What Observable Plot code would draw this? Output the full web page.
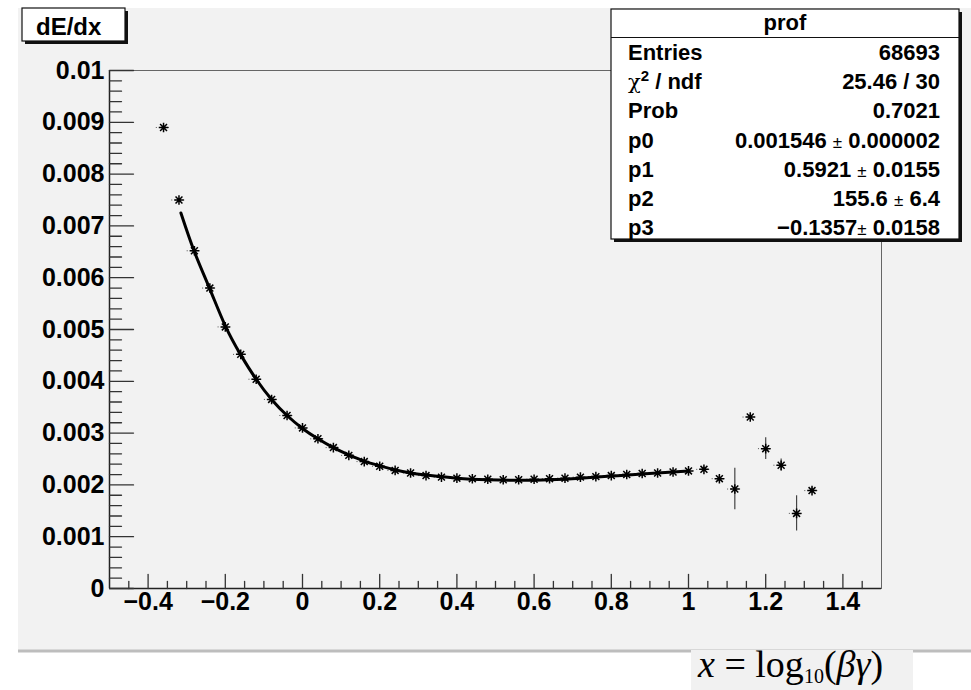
<!DOCTYPE html>
<html><head><meta charset="utf-8">
<script src="https://cdn.jsdelivr.net/npm/d3@7"></script>
<script src="https://cdn.jsdelivr.net/npm/@observablehq/plot@0.6"></script>
<style>
html,body{margin:0;padding:0;background:#fff;}
#chart{position:relative;width:971px;height:690px;overflow:hidden;}
</style></head><body><div id="chart"></div>
<script>
// ---- data ----
const binCenters = [-0.36,-0.32,-0.28,-0.24,-0.20,-0.16,-0.12,-0.08,-0.04,0.00,
  0.04,0.08,0.12,0.16,0.20,0.24,0.28,0.32,0.36,0.40,
  0.44,0.48,0.52,0.56,0.60,0.64,0.68,0.72,0.76,0.80,
  0.84,0.88,0.92,0.96,1.00,1.04,1.08,1.12,1.16,1.20,
  1.24,1.28,1.32];
const dedx = [0.00890,0.00750,0.00652,0.00580,0.00505,0.00452,0.00404,0.00365,0.00334,0.00310,
  0.00289,0.00272,0.00257,0.00245,0.00236,0.00228,0.00223,0.00218,0.00215,0.00213,
  0.00212,0.00211,0.00210,0.00210,0.00211,0.00212,0.00213,0.00215,0.00216,0.00218,
  0.00220,0.00222,0.00223,0.00225,0.00227,0.00230,0.00212,0.00192,0.00331,0.00270,
  0.00238,0.00145,0.00189];
const dedxErr = [0.00004,0.00003,0.00003,0.00002,0.00002,0.00002,0.00002,0.00001,0.00001,0.00001,
  0.00001,0.00001,0.00001,0.00001,0.00001,0.00001,0.00001,0.00001,0.00001,0.00001,
  0.00001,0.00001,0.00001,0.00001,0.00001,0.00001,0.00001,0.00001,0.00001,0.00001,
  0.00001,0.00001,0.00001,0.00001,0.00002,0.00004,0.00006,0.00040,0.00005,0.00021,
  0.00012,0.00034,0.00005];
const binHalfWidth = 0.02;

const fitX = [-0.315,-0.28,-0.24,-0.20,-0.16,-0.12,-0.08,-0.04,0.00,0.04,0.08,0.12,0.16,0.20,0.24,0.28,0.32,0.40,0.48,0.56,0.64,0.72,0.80,0.88,0.96,1.00];
const fitY = [0.00725,0.00650,0.00578,0.00507,0.00451,0.00404,0.00365,0.00334,0.00309,0.00289,0.00272,0.00258,0.00246,0.00237,0.00229,0.00223,0.00219,0.00213,0.00210,0.00209,0.00210,0.00213,0.00217,0.00221,0.00225,0.00227];

const xMajor = [-0.4,-0.2,0,0.2,0.4,0.6,0.8,1.0,1.2,1.4];
const xTickLabels = ["\u22120.4","\u22120.2","0","0.2","0.4","0.6","0.8","1","1.2","1.4"];
const xMinor = [-0.45,-0.35,-0.3,-0.25,-0.15,-0.1,-0.05,0.05,0.1,0.15,0.25,0.3,0.35,0.45,0.5,0.55,0.65,0.7,0.75,0.85,0.9,0.95,1.05,1.1,1.15,1.25,1.3,1.35,1.45];
const yMajor = [0,0.001,0.002,0.003,0.004,0.005,0.006,0.007,0.008,0.009,0.01];
const yTickLabels = ["0","0.001","0.002","0.003","0.004","0.005","0.006","0.007","0.008","0.009","0.01"];
const yMinor = [];
for (let i = 0; i < 50; i++) if (i % 5 !== 0) yMinor.push(+(i * 0.0002).toFixed(4));

const histTitle = "dE/dx";
const statsTitle = "prof";
const statsLabels = ["Entries", "\u03c7^2 / ndf", "Prob", "p0", "p1", "p2", "p3"];
const statsValues = ["68693", "25.46 / 30", "0.7021", "0.001546 \u00b1 0.000002", "0.5921 \u00b1 0.0155", "155.6 \u00b1 6.4", "\u22120.1357\u00b1 0.0158"];

// ---- marks ----
const points = binCenters.map((x, i) => ({x, y: dedx[i], e: dedxErr[i]}));
const fit = fitX.map((x, i) => ({x, y: fitY[i]}));

const tickShape = {draw(ctx, l) { ctx.moveTo(0, 0); ctx.lineTo(0, -l); }};
const asterisk = {draw(ctx, size) {
  const r = Math.sqrt(size / Math.PI), d = r * 0.72;
  ctx.moveTo(-r, 0); ctx.lineTo(r, 0);
  ctx.moveTo(0, -r); ctx.lineTo(0, r);
  ctx.moveTo(-d, -d); ctx.lineTo(d, d);
  ctx.moveTo(-d, d); ctx.lineTo(d, -d);
}};
const font = "'Liberation Sans', Arial, Helvetica, sans-serif";

const svg = Plot.plot({
  width: 971, height: 690,
  marginLeft: 109, marginRight: 90, marginTop: 70, marginBottom: 102,
  x: {domain: [-0.5, 1.5]},
  y: {domain: [0, 0.01]},
  style: {background: "transparent", fontFamily: font, overflow: "visible"},
  marks: [
    Plot.frame({stroke: "#666", strokeWidth: 1}),
    Plot.ruleX([-0.5], {stroke: "#222", strokeWidth: 1.5}),
    Plot.ruleY([0], {stroke: "#222", strokeWidth: 1.5}),
    Plot.vector(xMajor, {x: d => d, frameAnchor: "bottom", length: 14, anchor: "start", shape: tickShape, stroke: "#333", strokeWidth: 1.3}),
    Plot.vector(xMinor, {x: d => d, frameAnchor: "bottom", length: 7, anchor: "start", shape: tickShape, stroke: "#333", strokeWidth: 1.3}),
    Plot.vector(yMajor, {y: d => d, frameAnchor: "left", length: 24, rotate: 90, anchor: "start", shape: tickShape, stroke: "#333", strokeWidth: 1.3}),
    Plot.vector(yMinor, {y: d => d, frameAnchor: "left", length: 12, rotate: 90, anchor: "start", shape: tickShape, stroke: "#333", strokeWidth: 1.3}),
    Plot.axisX(xMajor, {tickSize: 0, tickPadding: 4, tickFormat: d => xTickLabels[xMajor.indexOf(d)], fontSize: 25, fontWeight: "bold", fill: "black", label: null}),
    Plot.axisY(yMajor, {tickSize: 0, tickPadding: 5, tickFormat: d => yTickLabels[yMajor.indexOf(d)], fontSize: 25, fontWeight: "bold", fill: "black", label: null}),
    Plot.link(points, {x1: d => d.x - binHalfWidth, x2: d => d.x + binHalfWidth, y1: "y", y2: "y", stroke: "#555", strokeWidth: 1, strokeDasharray: "1,3"}),
    Plot.ruleX(points, {x: "x", y1: d => d.y - d.e, y2: d => d.y + d.e, stroke: "#444", strokeWidth: 1.2}),
    Plot.line(fit, {x: "x", y: "y", curve: "natural", stroke: "black", strokeWidth: 3}),
    Plot.dot(points, {x: "x", y: "y", symbol: asterisk, r: 4.8, stroke: "black", strokeWidth: 1.5, fill: "none"})
  ]
});
document.getElementById("chart").append(svg);

// ---- decorations (ROOT canvas look) ----
const s = d3.select(svg);
const bg = s.insert("g", ":first-child");
bg.append("rect").attr("x", 18).attr("y", 8).attr("width", 953).attr("height", 642).attr("fill", "#f2f2f2");
bg.append("rect").attr("x", 18).attr("y", 649.5).attr("width", 953).attr("height", 3).attr("fill", "#bdbdbd");

const deco = s.append("g").attr("font-family", font).attr("text-anchor", "start");
// title box
deco.append("rect").attr("x", 25).attr("y", 11).attr("width", 103).attr("height", 33).attr("fill", "#111");
deco.append("rect").attr("x", 22).attr("y", 8).attr("width", 103).attr("height", 33).attr("fill", "white").attr("stroke", "#111").attr("stroke-width", 1.2);
deco.append("text").attr("x", 36).attr("y", 35).attr("text-anchor", "start").attr("font-size", 24).attr("font-weight", "bold").text(histTitle);

// stats box
const bx = 611, by = 9, bw = 348, bh = 230;
deco.append("rect").attr("x", bx + 3).attr("y", by + 3).attr("width", bw).attr("height", bh).attr("fill", "#111");
deco.append("rect").attr("x", bx).attr("y", by).attr("width", bw).attr("height", bh).attr("fill", "white").attr("stroke", "#111").attr("stroke-width", 1.2);
deco.append("line").attr("x1", bx).attr("x2", bx + bw).attr("y1", 37.5).attr("y2", 37.5).attr("stroke", "#111").attr("stroke-width", 1.2);
deco.append("text").attr("x", bx + bw / 2).attr("y", 30).attr("text-anchor", "middle").attr("font-size", 22).attr("font-weight", "bold").text(statsTitle);

function richText(t, str) {
  const parts = str.split(/(\u00b1|\u03c7\^2)/);
  let pendingDy = 0;
  parts.forEach(p => {
    if (p === "") return;
    if (p === "\u00b1") {
      const ts = t.append("tspan").attr("font-weight", "normal").attr("font-size", 17).text("\u00b1");
      if (pendingDy) { ts.attr("dy", pendingDy); pendingDy = 0; }
    } else if (p === "\u03c7^2") {
      t.append("tspan").attr("font-weight", "normal").attr("font-family", "'DejaVu Serif', serif").attr("font-size", 21).text("\u03c7");
      t.append("tspan").attr("font-size", 15).attr("dy", -8).text("2");
      pendingDy = 8;
    } else {
      const ts = t.append("tspan").text(p);
      if (pendingDy) { ts.attr("dy", pendingDy); pendingDy = 0; }
    }
  });
}
statsLabels.forEach((lab, i) => {
  const yb = 60 + i * 29.2;
  const tl = deco.append("text").attr("x", 628).attr("y", yb).attr("text-anchor", "start").attr("font-size", 22).attr("font-weight", "bold");
  richText(tl, lab);
  const tv = deco.append("text").attr("x", 940).attr("y", yb).attr("text-anchor", "end").attr("font-size", 22).attr("font-weight", "bold");
  richText(tv, statsValues[i]);
});

// x-axis title image-like box
deco.append("rect").attr("x", 691).attr("y", 650).attr("width", 222).attr("height", 40).attr("fill", "#f1f1f1");
const xt = deco.append("text").attr("x", 698).attr("y", 677).attr("text-anchor", "start").attr("font-family", "'Liberation Serif', 'Times New Roman', serif").attr("font-size", 38);
xt.append("tspan").attr("font-style", "italic").text("x");
xt.append("tspan").text(" = log");
xt.append("tspan").attr("font-size", 20).attr("dy", 6).text("10");
xt.append("tspan").attr("dy", -6).text("(");
xt.append("tspan").attr("font-style", "italic").text("\u03b2\u03b3");
xt.append("tspan").text(")");
</script></body></html>
